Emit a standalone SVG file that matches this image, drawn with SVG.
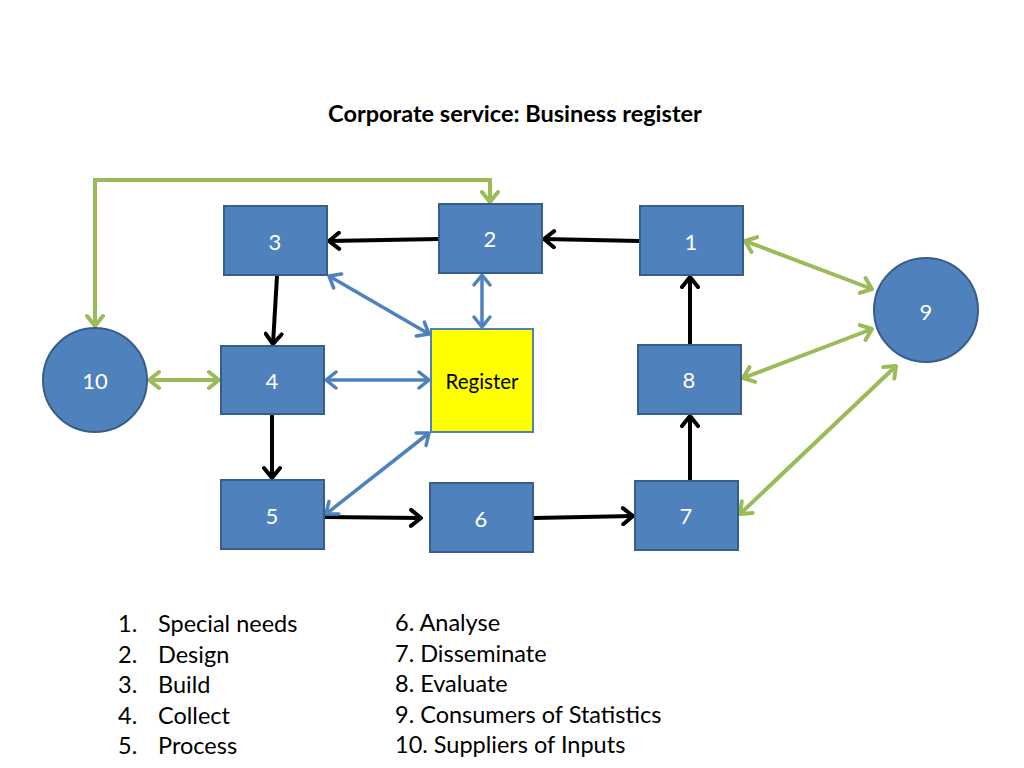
<svg xmlns="http://www.w3.org/2000/svg" width="1024" height="768" viewBox="0 0 1024 768">
<style>
.box{fill:#4F81BD;stroke:#385D8A;stroke-width:2}
.reg{fill:#FFFF00;stroke:#4F81BD;stroke-width:2}
.lbl{font-family:Lato,"Open Sans","Liberation Sans",sans-serif;font-size:22px;fill:#FFFFFF;text-anchor:middle;dominant-baseline:central}
.blk{stroke:#000;stroke-width:4;fill:none}
.grn{stroke:#9BBB59;stroke-width:4;fill:none}
.blu{stroke:#4F81BD;stroke-width:3.5;fill:none}
.txt{font-family:Lato,"Open Sans","Liberation Sans",sans-serif;font-size:23.5px;fill:#000}
</style>
<defs>
<marker id="ak" markerUnits="userSpaceOnUse" viewBox="-14 -10 16 20" refX="0" refY="0" markerWidth="16" markerHeight="20" orient="auto-start-reverse"><path d="M-10,-8 L0,0 L-10,8" fill="none" stroke="#000" stroke-width="4" stroke-linecap="round" stroke-linejoin="round"/></marker>
<marker id="ag" markerUnits="userSpaceOnUse" viewBox="-14 -10 16 20" refX="0" refY="0" markerWidth="16" markerHeight="20" orient="auto-start-reverse"><path d="M-10,-8 L0,0 L-10,8" fill="none" stroke="#9BBB59" stroke-width="4" stroke-linecap="round" stroke-linejoin="round"/></marker>
<marker id="ab" markerUnits="userSpaceOnUse" viewBox="-14 -10 16 20" refX="0" refY="0" markerWidth="16" markerHeight="20" orient="auto-start-reverse"><path d="M-10,-8 L0,0 L-10,8" fill="none" stroke="#4F81BD" stroke-width="3.5" stroke-linecap="round" stroke-linejoin="round"/></marker>
</defs>
<rect width="1024" height="768" fill="#FFFFFF"/>
<text x="515" y="122" text-anchor="middle" font-family="Lato,'Open Sans','Liberation Sans',sans-serif" font-size="23.5" font-weight="bold">Corporate service: Business register</text>

<g id="connectors">
<polyline class="grn" points="95,326 95,180 490,180 490,202" marker-start="url(#ag)" marker-end="url(#ag)"/>
<line class="blk" x1="439" y1="239" x2="329" y2="241" marker-end="url(#ak)"/>
<line class="blk" x1="640" y1="241" x2="544" y2="239" marker-end="url(#ak)"/>
<line class="blk" x1="277" y1="276" x2="273" y2="344" marker-end="url(#ak)"/>
<line class="blk" x1="272" y1="415" x2="272" y2="478" marker-end="url(#ak)"/>
<line class="blk" x1="325" y1="517" x2="421" y2="518" marker-end="url(#ak)"/>
<line class="blk" x1="534" y1="518" x2="633" y2="516" marker-end="url(#ak)"/>
<line class="blk" x1="690" y1="481" x2="690" y2="416" marker-end="url(#ak)"/>
<line class="blk" x1="690" y1="345" x2="690" y2="277" marker-end="url(#ak)"/>
<line class="blu" x1="329" y1="276" x2="429" y2="334" marker-start="url(#ab)" marker-end="url(#ab)"/>
<line class="blu" x1="482" y1="275" x2="482" y2="327" marker-start="url(#ab)" marker-end="url(#ab)"/>
<line class="blu" x1="326" y1="380" x2="429" y2="380" marker-start="url(#ab)" marker-end="url(#ab)"/>
<line class="blu" x1="326" y1="514" x2="429" y2="433" marker-start="url(#ab)" marker-end="url(#ab)"/>
<line class="grn" x1="149" y1="380" x2="219" y2="380" marker-start="url(#ag)" marker-end="url(#ag)"/>
<line class="grn" x1="745" y1="241" x2="872" y2="289" marker-start="url(#ag)" marker-end="url(#ag)"/>
<line class="grn" x1="743" y1="378" x2="872" y2="329" marker-start="url(#ag)" marker-end="url(#ag)"/>
<line class="grn" x1="740" y1="514" x2="896" y2="366" marker-start="url(#ag)" marker-end="url(#ag)"/>
</g>

<g id="n3"><rect class="box" x="224" y="206" width="103" height="69"/><text class="lbl" x="275" y="241">3</text></g>
<g id="n2"><rect class="box" x="439" y="204" width="103" height="69"/><text class="lbl" x="490" y="238">2</text></g>
<g id="n1"><rect class="box" x="640" y="206" width="103" height="69"/><text class="lbl" x="691" y="241">1</text></g>
<g id="n9"><circle class="box" cx="926" cy="310" r="52"/><text class="lbl" x="926" y="311">9</text></g>
<g id="n10"><circle class="box" cx="95" cy="380" r="52"/><text class="lbl" x="95" y="380">10</text></g>
<g id="n4"><rect class="box" x="221" y="346" width="103" height="68"/><text class="lbl" x="272" y="380">4</text></g>
<g id="register"><rect class="reg" x="431" y="329" width="102" height="103"/><text class="lbl" x="482" y="381" style="fill:#000;font-size:20.5px">Register</text></g>
<g id="n8"><rect class="box" x="638" y="345" width="103" height="69"/><text class="lbl" x="689" y="379">8</text></g>
<g id="n5"><rect class="box" x="221" y="480" width="103" height="69"/><text class="lbl" x="272" y="515">5</text></g>
<g id="n6"><rect class="box" x="430" y="483" width="103" height="69"/><text class="lbl" x="481" y="518">6</text></g>
<g id="n7"><rect class="box" x="635" y="481" width="103" height="69"/><text class="lbl" x="686" y="515">7</text></g>

<g id="legend">
<text class="txt" x="118" y="632">1.</text><text class="txt" x="158" y="632">Special needs</text>
<text class="txt" x="118" y="663">2.</text><text class="txt" x="158" y="663">Design</text>
<text class="txt" x="118" y="693">3.</text><text class="txt" x="158" y="693">Build</text>
<text class="txt" x="118" y="724">4.</text><text class="txt" x="158" y="724">Collect</text>
<text class="txt" x="118" y="754">5.</text><text class="txt" x="158" y="754">Process</text>
<text class="txt" x="395" y="631">6. Analyse</text>
<text class="txt" x="395" y="662">7. Disseminate</text>
<text class="txt" x="395" y="692">8. Evaluate</text>
<text class="txt" x="395" y="723">9. Consumers of Statistics</text>
<text class="txt" x="395" y="753">10. Suppliers of Inputs</text>
</g>
</svg>
